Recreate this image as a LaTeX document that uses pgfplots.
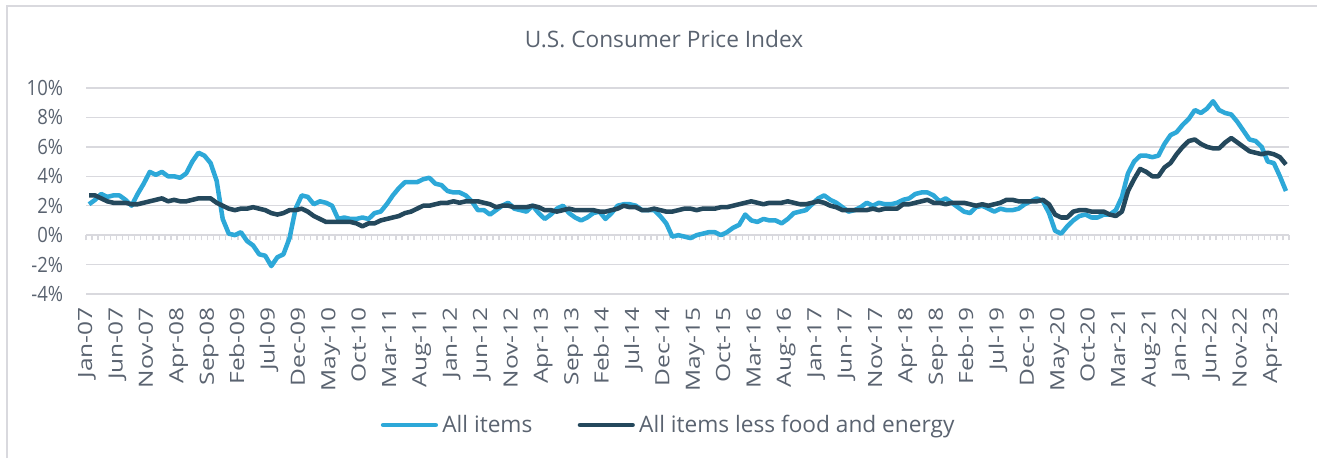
\documentclass[border=0pt]{standalone}
\usepackage{fontspec}
\setmainfont{Open Sans}
\newfontfamily\xtickfont{Open Sans}[FakeStretch=1.25]
\newfontfamily\ytickfont{Open Sans}[FakeStretch=0.88]
\usepackage{pgfplots}
\pgfplotsset{compat=1.18}
\definecolor{cpiblue}{RGB}{45,168,216}
\definecolor{cpidark}{RGB}{36,72,92}
\definecolor{txtgray}{RGB}{90,99,112}
\definecolor{gridgray}{RGB}{217,217,222}
\begin{document}
\begin{tikzpicture}
\useasboundingbox (0,0) rectangle (987.75pt,-343.5pt);
\draw[gridgray, line width=1.1pt] (5.25pt,-343.5pt) -- (5.25pt,-4.5pt) -- (987.75pt,-4.5pt);
\node[anchor=base, text=txtgray, font=\fontsize{17}{20}\selectfont] at (498pt,-35.25pt) {U.S. Consumer Price Index};

% zero line with monthly tick marks
\begin{axis}[
  at={(64.5pt,-66pt)}, anchor=north west,
  scale only axis, width=902.25pt, height=154.5pt,
  xmin=-0.5, xmax=197.5, ymin=-4, ymax=10,
  axis x line=middle, axis y line=none,
  x axis line style={-, draw=gridgray, line width=1.1pt},
  xtick={-0.5,0.5,...,197.5}, xticklabels={}, ytick=\empty,
  xtick align=outside, major tick length=3.9pt,
  major tick style={gridgray, line width=1pt},
]
\end{axis}

\begin{axis}[
  at={(64.5pt,-66pt)}, anchor=north west,
  scale only axis, width=902.25pt, height=154.5pt,
  xmin=-0.5, xmax=197.5, ymin=-4, ymax=10,
  axis line style={draw=none},
  major tick length=0pt,
  ytick={-4,-2,...,10},
  yticklabels={-4\%,-2\%,0\%,2\%,4\%,6\%,8\%,10\%},
  ymajorgrids, grid style={gridgray, line width=1.1pt},
  xtick={0,5,...,195},
  xticklabels={Jan-07,Jun-07,Nov-07,Apr-08,Sep-08,Feb-09,Jul-09,Dec-09,May-10,Oct-10,Mar-11,Aug-11,Jan-12,Jun-12,Nov-12,Apr-13,Sep-13,Feb-14,Jul-14,Dec-14,May-15,Oct-15,Mar-16,Aug-16,Jan-17,Jun-17,Nov-17,Apr-18,Sep-18,Feb-19,Jul-19,Dec-19,May-20,Oct-20,Mar-21,Aug-21,Jan-22,Jun-22,Nov-22,Apr-23},
  xticklabel style={rotate=90, anchor=east, inner sep=0pt, text height=0.72em, text depth=0.24em, font=\xtickfont\fontsize{14.7}{16}\selectfont, text=txtgray},
  yticklabel style={anchor=east, inner sep=0pt, font=\ytickfont\fontsize{15.75}{18}\selectfont, text=txtgray},
  xticklabel shift=9.75pt, yticklabel shift=17pt,
  legend columns=2,
  legend style={draw=none, fill=none, at={(0.4835,-0.636)}, anchor=center,
    font=\fontsize{17}{20}\selectfont, text=txtgray, nodes={inner xsep=0pt},
    /tikz/every odd column/.append style={column sep=3.25pt},
    /tikz/every even column/.append style={column sep=34pt}},
  legend image code/.code={\draw[#1, line width=3.6pt, line cap=round] (0pt,0pt) -- (39.25pt,0pt);},
]
\addplot[cpiblue, line width=3.4pt, line join=round] coordinates {
(0,2.1) (1,2.4) (2,2.8) (3,2.6) (4,2.7) (5,2.7) (6,2.4) (7,2.0) (8,2.8) (9,3.5) (10,4.3) (11,4.1)
(12,4.3) (13,4.0) (14,4.0) (15,3.9) (16,4.2) (17,5.0) (18,5.6) (19,5.4) (20,4.9) (21,3.7) (22,1.1) (23,0.1)
(24,0.0) (25,0.2) (26,-0.4) (27,-0.7) (28,-1.3) (29,-1.4) (30,-2.1) (31,-1.5) (32,-1.3) (33,-0.2) (34,1.8) (35,2.7)
(36,2.6) (37,2.1) (38,2.3) (39,2.2) (40,2.0) (41,1.1) (42,1.2) (43,1.1) (44,1.1) (45,1.2) (46,1.1) (47,1.5)
(48,1.6) (49,2.1) (50,2.7) (51,3.2) (52,3.6) (53,3.6) (54,3.6) (55,3.8) (56,3.9) (57,3.5) (58,3.4) (59,3.0)
(60,2.9) (61,2.9) (62,2.7) (63,2.3) (64,1.7) (65,1.7) (66,1.4) (67,1.7) (68,2.0) (69,2.2) (70,1.8) (71,1.7)
(72,1.6) (73,2.0) (74,1.5) (75,1.1) (76,1.4) (77,1.8) (78,2.0) (79,1.5) (80,1.2) (81,1.0) (82,1.2) (83,1.5)
(84,1.6) (85,1.1) (86,1.5) (87,2.0) (88,2.1) (89,2.1) (90,2.0) (91,1.7) (92,1.7) (93,1.7) (94,1.3) (95,0.8)
(96,-0.1) (97,0.0) (98,-0.1) (99,-0.2) (100,0.0) (101,0.1) (102,0.2) (103,0.2) (104,0.0) (105,0.2) (106,0.5) (107,0.7)
(108,1.4) (109,1.0) (110,0.9) (111,1.1) (112,1.0) (113,1.0) (114,0.8) (115,1.1) (116,1.5) (117,1.6) (118,1.7) (119,2.1)
(120,2.5) (121,2.7) (122,2.4) (123,2.2) (124,1.9) (125,1.6) (126,1.7) (127,1.9) (128,2.2) (129,2.0) (130,2.2) (131,2.1)
(132,2.1) (133,2.2) (134,2.4) (135,2.5) (136,2.8) (137,2.9) (138,2.9) (139,2.7) (140,2.3) (141,2.5) (142,2.2) (143,1.9)
(144,1.6) (145,1.5) (146,1.9) (147,2.0) (148,1.8) (149,1.6) (150,1.8) (151,1.7) (152,1.7) (153,1.8) (154,2.1) (155,2.3)
(156,2.5) (157,2.3) (158,1.5) (159,0.3) (160,0.1) (161,0.6) (162,1.0) (163,1.3) (164,1.4) (165,1.2) (166,1.2) (167,1.4)
(168,1.4) (169,1.7) (170,2.6) (171,4.2) (172,5.0) (173,5.4) (174,5.4) (175,5.3) (176,5.4) (177,6.2) (178,6.8) (179,7.0)
(180,7.5) (181,7.9) (182,8.5) (183,8.3) (184,8.6) (185,9.1) (186,8.5) (187,8.3) (188,8.2) (189,7.7) (190,7.1) (191,6.5)
(192,6.4) (193,6.0) (194,5.0) (195,4.9) (196,4.0) (197,3.0)
};
\addlegendentry{All items}
\addplot[cpidark, line width=3.4pt, line join=round] coordinates {
(0,2.7) (1,2.7) (2,2.5) (3,2.3) (4,2.2) (5,2.2) (6,2.2) (7,2.1) (8,2.1) (9,2.2) (10,2.3) (11,2.4)
(12,2.5) (13,2.3) (14,2.4) (15,2.3) (16,2.3) (17,2.4) (18,2.5) (19,2.5) (20,2.5) (21,2.2) (22,2.0) (23,1.8)
(24,1.7) (25,1.8) (26,1.8) (27,1.9) (28,1.8) (29,1.7) (30,1.5) (31,1.4) (32,1.5) (33,1.7) (34,1.7) (35,1.8)
(36,1.6) (37,1.3) (38,1.1) (39,0.9) (40,0.9) (41,0.9) (42,0.9) (43,0.9) (44,0.8) (45,0.6) (46,0.8) (47,0.8)
(48,1.0) (49,1.1) (50,1.2) (51,1.3) (52,1.5) (53,1.6) (54,1.8) (55,2.0) (56,2.0) (57,2.1) (58,2.2) (59,2.2)
(60,2.3) (61,2.2) (62,2.3) (63,2.3) (64,2.3) (65,2.2) (66,2.1) (67,1.9) (68,2.0) (69,2.0) (70,1.9) (71,1.9)
(72,1.9) (73,2.0) (74,1.9) (75,1.7) (76,1.7) (77,1.6) (78,1.7) (79,1.8) (80,1.7) (81,1.7) (82,1.7) (83,1.7)
(84,1.6) (85,1.6) (86,1.7) (87,1.8) (88,2.0) (89,1.9) (90,1.9) (91,1.7) (92,1.7) (93,1.8) (94,1.7) (95,1.6)
(96,1.6) (97,1.7) (98,1.8) (99,1.8) (100,1.7) (101,1.8) (102,1.8) (103,1.8) (104,1.9) (105,1.9) (106,2.0) (107,2.1)
(108,2.2) (109,2.3) (110,2.2) (111,2.1) (112,2.2) (113,2.2) (114,2.2) (115,2.3) (116,2.2) (117,2.1) (118,2.1) (119,2.2)
(120,2.3) (121,2.2) (122,2.0) (123,1.9) (124,1.7) (125,1.7) (126,1.7) (127,1.7) (128,1.7) (129,1.8) (130,1.7) (131,1.8)
(132,1.8) (133,1.8) (134,2.1) (135,2.1) (136,2.2) (137,2.3) (138,2.4) (139,2.2) (140,2.2) (141,2.1) (142,2.2) (143,2.2)
(144,2.2) (145,2.1) (146,2.0) (147,2.1) (148,2.0) (149,2.1) (150,2.2) (151,2.4) (152,2.4) (153,2.3) (154,2.3) (155,2.3)
(156,2.3) (157,2.4) (158,2.1) (159,1.4) (160,1.2) (161,1.2) (162,1.6) (163,1.7) (164,1.7) (165,1.6) (166,1.6) (167,1.6)
(168,1.4) (169,1.3) (170,1.6) (171,3.0) (172,3.8) (173,4.5) (174,4.3) (175,4.0) (176,4.0) (177,4.6) (178,4.9) (179,5.5)
(180,6.0) (181,6.4) (182,6.5) (183,6.2) (184,6.0) (185,5.9) (186,5.9) (187,6.3) (188,6.6) (189,6.3) (190,6.0) (191,5.7)
(192,5.6) (193,5.5) (194,5.6) (195,5.5) (196,5.3) (197,4.8)
};
\addlegendentry{All items less food and energy}
\end{axis}
\end{tikzpicture}
\end{document}
